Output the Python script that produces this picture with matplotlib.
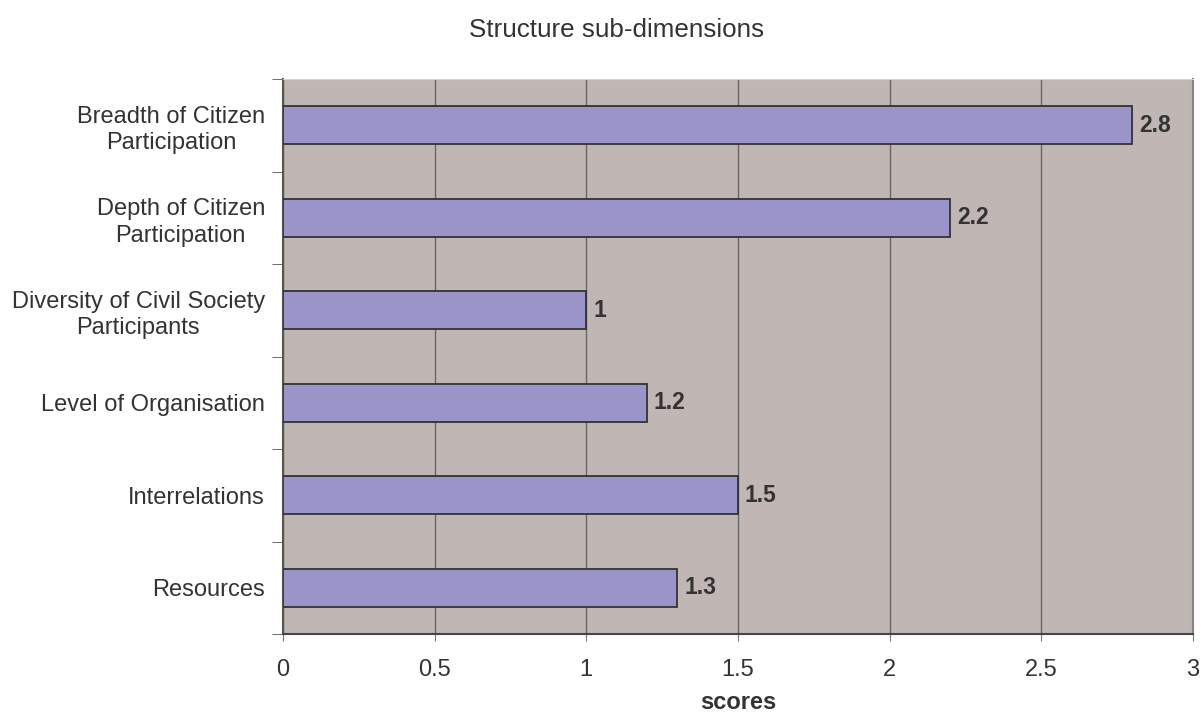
import numpy as np
import matplotlib.pyplot as plt
from matplotlib.ticker import FixedLocator

plt.rcParams['font.family'] = ['Liberation Sans', 'DejaVu Sans']

# sub-dimension scores, top to bottom
categories = ['Breadth of Citizen\nParticipation', 'Depth of Citizen\nParticipation',
              'Diversity of Civil Society\nParticipants', 'Level of Organisation',
              'Interrelations', 'Resources']
scores = [2.8, 2.2, 1, 1.2, 1.5, 1.3]
score_labels = ['2.8', '2.2', '1', '1.2', '1.5', '1.3']
xticks = [0, 0.5, 1, 1.5, 2, 2.5, 3]
xtick_labels = ['0', '0.5', '1', '1.5', '2', '2.5', '3']

txt = '#333333'

fig = plt.figure(figsize=(12.01, 7.19), dpi=100)
ax = fig.add_axes([0.2356, 0.1182, 0.7577, 0.7718])
ax.set_facecolor('#c0b7b4')

y = np.arange(len(categories))[::-1]
ax.barh(y, scores, height=0.41, color='#9a94c8', edgecolor='#333333', linewidth=1.3, zorder=3)
for yi, v, lab in zip(y, scores, score_labels):
    ax.annotate(lab, (v, yi), xytext=(5, 0), textcoords='offset points',
                va='center', ha='left', fontsize=16.5, fontweight='bold', color=txt)

ax.set_xlim(0, 3)
ax.set_ylim(-0.5, len(categories) - 0.5)
ax.set_xticks(xticks)
ax.set_xticklabels(xtick_labels, fontsize=17, color=txt)
ax.tick_params(axis='x', length=5, color='#777777', pad=13)
ax.xaxis.grid(True, color='#666666', linewidth=1, zorder=0)
ax.set_axisbelow(True)

ax.set_yticks(y)
ax.set_yticklabels(categories, fontsize=17, color=txt)
ax.tick_params(axis='y', which='major', length=0, pad=13)
ax.yaxis.set_minor_locator(FixedLocator(np.arange(-0.5, len(categories), 1)))
ax.tick_params(axis='y', which='minor', length=8, color='#555555')

for lbl in ax.get_yticklabels():
    lbl.set_multialignment('center')
    lbl.set_linespacing(1.25)

ax.spines['left'].set_color('#555555')
ax.spines['left'].set_linewidth(1.5)
ax.spines['bottom'].set_color('#444444')
ax.spines['bottom'].set_linewidth(1.5)
ax.spines['top'].set_color('#d8d0cc')
ax.spines['right'].set_color('#8a8080')
ax.spines['right'].set_linewidth(1.5)

ax.set_xlabel('scores', fontsize=17, fontweight='bold', color=txt, labelpad=7)
fig.text(0.513, 0.958, 'Structure sub-dimensions', ha='center', va='center',
         fontsize=18.7, color=txt)

fig.savefig('out.png', dpi=100)
